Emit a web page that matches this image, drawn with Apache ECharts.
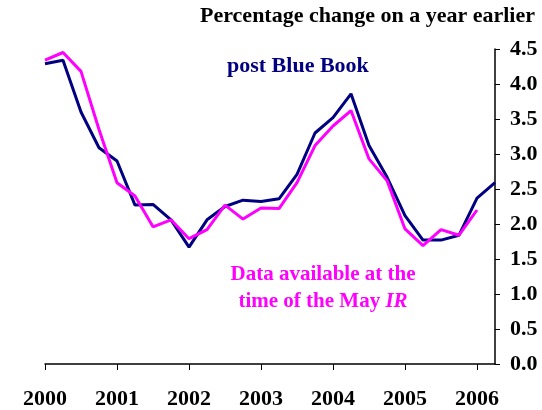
<!DOCTYPE html>
<html>
<head>
<meta charset="utf-8">
<script src="https://cdn.jsdelivr.net/npm/echarts@6/dist/echarts.min.js"></script>
<style>
  html,body{margin:0;padding:0;background:#fff;}
  #chart{width:542px;height:410px;}
</style>
</head>
<body>
<div id="chart"></div>
<script>
// quarterly, 2000 Q1 .. 2006 Q2
var quarters=[];
for(var y=2000;y<=2006;y++){
    for(var q=1;q<=4;q++){
        if(y==2006 && q>2) break;
        quarters.push(y+' Q'+q);
    }
}
var yearLabels=['2000','2001','2002','2003','2004','2005','2006'];

// post Blue Book
var postBlueBook=[4.29,4.34,3.60,3.09,2.90,2.27,2.28,2.06,1.67,2.06,2.25,2.34,2.32,
                  2.36,2.71,3.30,3.52,3.86,3.12,2.67,2.12,1.77,1.77,1.84,2.37,2.59];
// data available at the time of the May IR
var mayIR=[4.34,4.45,4.18,3.35,2.59,2.40,1.96,2.06,1.79,1.92,2.27,2.07,2.23,
           2.22,2.59,3.12,3.40,3.62,2.93,2.62,1.93,1.69,1.92,1.84,2.20,null];

var serif='"Liberation Serif","Times New Roman",serif';

var myChart=echarts.init(document.getElementById('chart'));
var option={
    animation:false,
    grid:{left:45,right:47,top:49,bottom:46},
    xAxis:{
        type:'category',
        boundaryGap:false,
        data:quarters,
        axisLine:{lineStyle:{color:'#000',width:1.5}},
        axisTick:{interval:3,length:6,lineStyle:{color:'#000',width:1}},
        axisLabel:{
            interval:3,
            margin:24,
            color:'#000',
            fontFamily:serif,
            fontWeight:'bold',
            fontSize:22,
            formatter:function(v){ return yearLabels[yearLabels.indexOf(v.slice(0,4))]; }
        },
        splitLine:{show:false}
    },
    yAxis:{
        type:'value',
        position:'right',
        min:0,max:4.5,interval:0.5,
        axisLine:{show:true,lineStyle:{color:'#000',width:1.5}},
        axisTick:{show:true,length:5,lineStyle:{color:'#000'}},
        axisLabel:{
            margin:15,
            color:'#000',
            fontFamily:serif,
            fontWeight:'bold',
            fontSize:22,
            formatter:function(v){ return v.toFixed(1); }
        },
        splitLine:{show:false}
    },
    series:[
        {
            name:'post Blue Book',
            type:'line',
            data:postBlueBook,
            symbol:'none',
            lineStyle:{color:'#000080',width:3},
            z:2
        },
        {
            name:'May IR',
            type:'line',
            data:mayIR,
            symbol:'none',
            lineStyle:{color:'#ff00ff',width:3},
            z:3
        }
    ],
    graphic:[
        {
            type:'text',right:7,top:5,
            style:{text:'Percentage change on a year earlier',fill:'#000',
                font:'bold 22px '+serif}
        },
        {
            type:'text',left:227,top:55,
            style:{text:'post Blue Book',fill:'#000080',font:'bold 22px '+serif}
        },
        {
            type:'text',x:323,y:261,
            style:{
                text:'Data available at the\n{n|time of the May }{i|IR}',
                fill:'#ff00ff',
                font:'bold 21px '+serif,
                align:'center',
                verticalAlign:'top',
                lineHeight:27,
                rich:{
                    n:{fill:'#ff00ff',font:'bold 21px '+serif,lineHeight:27},
                    i:{fill:'#ff00ff',font:'italic bold 21px '+serif,lineHeight:27}
                }
            }
        }
    ]
};
myChart.setOption(option);
</script>
</body>
</html>
